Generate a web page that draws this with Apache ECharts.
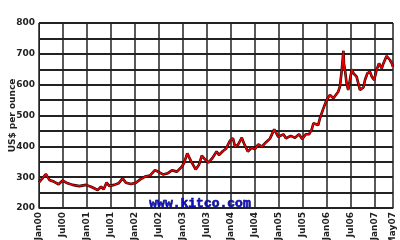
<!DOCTYPE html>
<html>
<head>
<meta charset="utf-8">
<script src="https://cdn.jsdelivr.net/npm/echarts@6/dist/echarts.min.js"></script>
<style>html,body{margin:0;padding:0;background:#fff}#c{width:400px;height:240px}</style>
</head>
<body>
<div id="c"></div>
<script>
// Gold price (US$ per ounce)
const dates = [
"2000-01-01","2000-01-16","2000-02-23","2000-03-19","2000-04-25","2000-05-28","2000-06-28","2000-08-06","2000-09-13","2000-11-03","2000-12-23",
"2001-02-01","2001-02-25","2001-03-21","2001-04-16","2001-05-06","2001-05-28","2001-06-18","2001-07-25","2001-08-28","2001-09-28","2001-10-23","2001-12-01",
"2002-01-08","2002-02-08","2002-03-16","2002-04-23","2002-06-01","2002-06-23","2002-08-01","2002-09-08","2002-10-08","2002-11-16","2002-12-22",
"2003-01-08","2003-02-03","2003-03-01","2003-04-06","2003-05-01","2003-05-22","2003-06-16","2003-07-10","2003-08-08","2003-09-13","2003-10-01","2003-11-01","2003-11-23","2003-12-23",
"2004-01-16","2004-02-01","2004-02-23","2004-03-22","2004-04-08","2004-05-07","2004-06-07","2004-07-01","2004-07-25","2004-08-22","2004-09-28","2004-10-23","2004-11-25","2004-12-08","2004-12-25",
"2005-02-04","2005-02-23","2005-03-28","2005-05-01","2005-06-01","2005-06-25","2005-07-22","2005-08-16","2005-09-07","2005-09-19","2005-10-01","2005-10-25","2005-11-08","2005-12-04","2005-12-16","2005-12-28",
"2006-01-23","2006-02-19","2006-03-01","2006-03-25","2006-04-08","2006-04-22","2006-05-04","2006-05-08","2006-05-16","2006-05-28","2006-06-10","2006-06-23","2006-07-07","2006-07-19","2006-08-01","2006-08-13","2006-08-25","2006-09-08","2006-09-22","2006-10-04","2006-10-16","2006-11-04","2006-11-23","2006-12-07","2006-12-25",
"2007-01-13","2007-02-01","2007-02-22","2007-03-04","2007-03-28","2007-04-23","2007-05-07","2007-05-16"
];
const prices = [
283,285,310,291,285,277,289,280,275,271,275,
269,264,258,269,261,283,271,275,280,296,282,278,
282,292,302,305,323,318,309,313,322,318,334,
345,377,352,325,340,370,358,347,360,383,372,385,392,418,
426,399,405,428,410,383,396,391,406,399,415,425,455,445,431,
439,426,434,428,439,424,439,439,455,475,480,469,491,523,518,550,
567,556,550,577,594,648,710,669,648,604,583,615,650,637,642,626,621,583,588,591,615,637,642,626,615,
648,669,653,669,693,680,669,658
];
const monthNames = ["Jan","Feb","Mar","Apr","May","Jun","Jul","Aug","Sep","Oct","Nov","Dec"];
const yTickLabels = [200,300,400,500,600,700,800];

function toMonth(s){const p=s.split('-').map(Number);return (p[0]-2000)*12+(p[1]-1)+(p[2]-1)/30;}
const data = dates.map((d,i)=>[toMonth(d),prices[i]]);

const chart = echarts.init(document.getElementById('c'),null,{renderer:'canvas'});
const lblFont = {fontFamily:'DejaVu Sans',fontWeight:'bold',fontSize:9,color:'#222',textShadowColor:'#999',textShadowOffsetX:1,textShadowOffsetY:0,textShadowBlur:0};
chart.setOption({
  animation:false,
  backgroundColor:'#fff',
  grid:{left:39,right:7,top:23,bottom:32,containLabel:false,outerBoundsMode:'none'},
  xAxis:{
    type:'value',min:0,max:88.5,interval:6,
    axisLine:{show:true,lineStyle:{color:'#222',width:1}},
    axisTick:{show:false},
    splitLine:{show:true,lineStyle:{color:'#222',width:1.5}},
    axisLabel:Object.assign({rotate:90,margin:4,showMaxLabel:true,
      formatter:function(v){const m=Math.floor(v+1e-6);const yr=2000+Math.floor(m/12);return monthNames[m%12]+String(yr%100).padStart(2,'0');}},lblFont)
  },
  yAxis:{
    type:'value',min:200,max:800,interval:50,
    name:'US$ per ounce',nameLocation:'middle',nameGap:22,nameMoveOverlap:false,
    nameTextStyle:{fontFamily:'DejaVu Sans',fontWeight:'bold',fontSize:9,color:'#222',textShadowColor:'#999',textShadowOffsetX:1,textShadowBlur:0},
    axisLine:{show:true,lineStyle:{color:'#222',width:1}},
    axisTick:{show:false},
    splitLine:{show:true,lineStyle:{color:'#222',width:2}},
    axisLabel:Object.assign({margin:4,formatter:function(v){return yTickLabels.indexOf(v)>=0?String(v):'';}},lblFont)
  },
  graphic:[{type:'text',left:'center',top:197,z:100,
    style:{text:'www.kitco.com',font:'bold 13px "Liberation Mono"',fill:'#1010c0',stroke:'#000050',lineWidth:0.6}}],
  series:[
    {type:'line',data:data,symbol:'none',silent:true,z:2,lineStyle:{color:'#200000',width:2.6}},
    {type:'line',data:data,symbol:'none',silent:true,z:3,lineStyle:{color:'#ee0000',width:1.5}}
  ]
});
</script>
</body>
</html>
